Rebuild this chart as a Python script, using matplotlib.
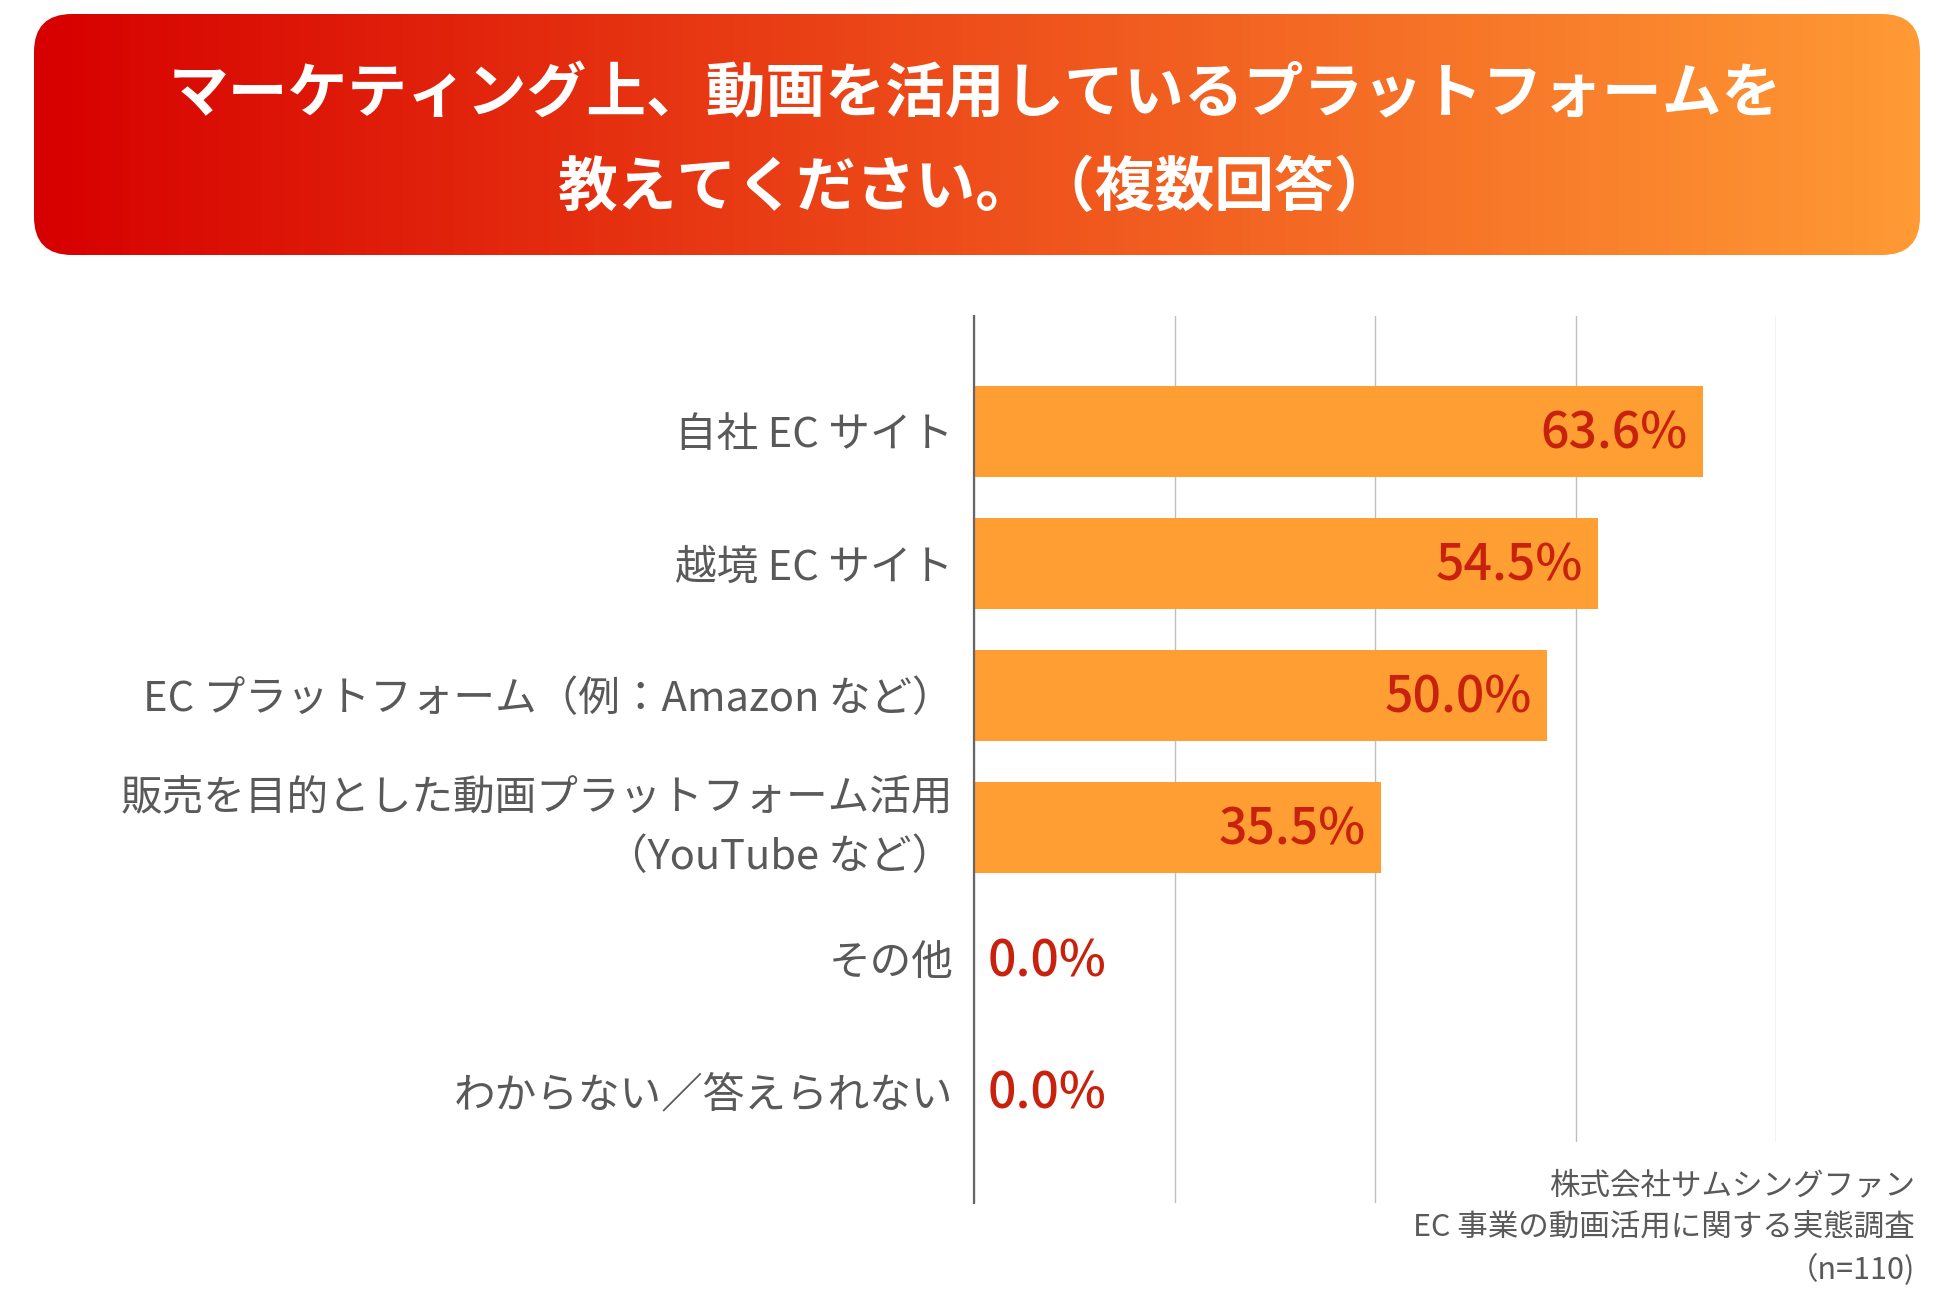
import numpy as np
import matplotlib.pyplot as plt
from matplotlib.patches import FancyBboxPatch
from matplotlib.colors import LinearSegmentedColormap

plt.rcParams['font.family'] = ['Noto Sans CJK JP', 'DejaVu Sans']

# data
title = "マーケティング上、動画を活用しているプラットフォームを\n教えてください。（複数回答）"
categories = ["自社 EC サイト",
              "越境 EC サイト",
              "EC プラットフォーム（例：Amazon など）",
              "販売を目的とした動画プラットフォーム活用\n（YouTube など）",
              "その他",
              "わからない／答えられない"]
values = [63.6, 54.5, 50.0, 35.5, 0.0, 0.0]
grid_ticks = [0, 17.5, 35, 52.5, 70]
source = "株式会社サムシングファン\nEC 事業の動画活用に関する実態調査\n（n=110)"

W, H = 1950, 1300
fig = plt.figure(figsize=(W / 100, H / 100), dpi=100)

# background axes in pixel coordinates (title banner, source note)
bg = fig.add_axes([0, 0, 1, 1])
bg.set_xlim(0, W)
bg.set_ylim(H, 0)
bg.axis('off')
bg.patch.set_alpha(0)

box = FancyBboxPatch((34, 14), 1886, 241, boxstyle="round,pad=0,rounding_size=38",
                     facecolor='none', edgecolor='none')
bg.add_patch(box)
cmap = LinearSegmentedColormap.from_list("banner", ["#D70000", "#EE4F1B", "#FF9A35"])
grad = np.linspace(0, 1, 512).reshape(1, -1)
im = bg.imshow(grad, cmap=cmap, extent=[34, 1920, 255, 14], aspect='auto', zorder=1)
im.set_clip_path(box)
bg.text(975, 142, title, ha='center', va='center', color='white', fontsize=43,
        fontweight='bold', linespacing=1.72, zorder=3)

# main chart
ax = fig.add_axes([974 / W, 1 - 1203 / H, (1776 - 974) / W, (1203 - 316) / H])
y = np.arange(len(categories))
ax.barh(y, values, height=0.69, color='#FF9F33', zorder=2)
ax.set_xlim(0, 70)
ax.set_ylim(5.845, -0.875)

ax.set_xticks(grid_ticks)
ax.set_xticklabels([])
ax.tick_params(axis='x', length=0)
ax.xaxis.grid(True, color='#BFBFBF', linewidth=1.0)
ax.set_axisbelow(True)

ax.set_yticks(y)
ax.set_yticklabels(categories, fontsize=30, color='#595959')
ax.tick_params(axis='y', length=0, pad=15)
for lab in ax.get_yticklabels():
    if "\n" in lab.get_text():
        lab.set_linespacing(1.6)
        lab.set_verticalalignment('center')

for s in ['top', 'right', 'bottom']:
    ax.spines[s].set_visible(False)
ax.spines['left'].set_color('#666666')
ax.spines['left'].set_linewidth(1.6)
ax.spines['left'].set_zorder(3)

for i, v in enumerate(values):
    if v > 0:
        ax.annotate(f"{v:.1f}%", (v, i), xytext=(-11, -2), textcoords='offset points',
                    ha='right', va='center', fontsize=36, color='#C8220E',
                    fontweight='medium', zorder=4)
    else:
        ax.annotate(f"{v:.1f}%", (v, i), xytext=(10, -2), textcoords='offset points',
                    ha='left', va='center', fontsize=36, color='#C8220E',
                    fontweight='medium', zorder=4)

# source note, white box hides the lower part of the gridlines
fig.text(1915 / W, 1 - 1228 / H, source, ha='right', va='center', fontsize=22,
         color='#595959', linespacing=1.45, zorder=5,
         bbox=dict(facecolor='white', edgecolor='none', pad=20))

fig.savefig("out.png", dpi=100)
